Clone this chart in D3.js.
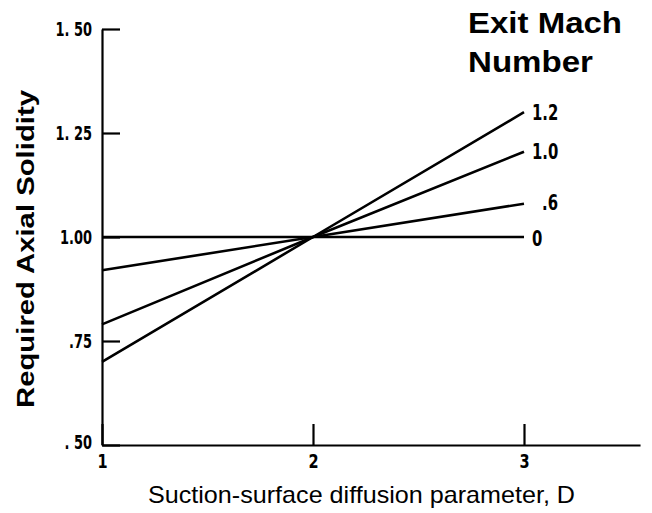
<!DOCTYPE html>
<html><head><meta charset="utf-8">
<script src="https://cdn.jsdelivr.net/npm/d3@7"></script>
<style>
html,body{margin:0;padding:0;background:#fff;}
svg{display:block;}
</style></head>
<body>
<svg id="chart" width="652" height="513"></svg>
<script>
// ---- data ----
const dValues = [1, 2, 3];
const machLabels = ["1.2", "1.0", ".6", "0"];
const solidityMach12 = [0.70, 1.00, 1.30];
const solidityMach10 = [0.79, 1.00, 1.205];
const solidityMach06 = [0.92, 1.00, 1.08];
const solidityMach00 = [1.00, 1.00, 1.00];
const yTickValues = [0.50, 0.75, 1.00, 1.25, 1.50];
const yTickLabels = [". 50", ".75", "1.00", "1. 25", "1. 50"];
const xTickValues = [1, 2, 3];
const xTickLabels = ["1", "2", "3"];
const xAxisMax = 3.55;

const series = [solidityMach12, solidityMach10, solidityMach06, solidityMach00];

const svg = d3.select("#chart");
const x = d3.scaleLinear().domain([1, 3]).range([102, 524]);
const y = d3.scaleLinear().domain([0.5, 1.5]).range([445, 29]);

const tickFont = "'Liberation Sans Narrow','DejaVu Sans Condensed','DejaVu Sans',sans-serif";
const titleFont = "'Liberation Sans',Arial,sans-serif";

// compress text horizontally to mimic the condensed typewriter digits
function condense(sel, factor) {
  sel.each(function () {
    const w = this.getComputedTextLength();
    d3.select(this).attr("textLength", w * factor).attr("lengthAdjust", "spacingAndGlyphs");
  });
}

// y axis
const yAxis = d3.axisLeft(y)
  .tickValues(yTickValues)
  .tickFormat((d, i) => yTickLabels[i])
  .tickSizeInner(-18).tickSizeOuter(0).tickPadding(10);
const gy = svg.append("g").attr("transform", `translate(${x(1)},0)`).call(yAxis);
gy.select(".domain").attr("stroke", "#000").attr("stroke-width", 2.2);
gy.selectAll(".tick line").attr("stroke", "#000").attr("stroke-width", 2.2);
gy.selectAll(".tick text").attr("fill", "#000")
  .style("font-family", tickFont).style("font-weight", "bold").style("font-size", "20px")
  .call(condense, 0.72);
// the bottom label sits slightly above the x axis line
gy.selectAll(".tick text").filter(d => d === 0.5).attr("y", -3);

// x axis
const xFull = d3.scaleLinear().domain([1, xAxisMax]).range([x(1), x(xAxisMax)]);
const xAxis = d3.axisBottom(xFull)
  .tickValues(xTickValues)
  .tickFormat((d, i) => xTickLabels[i])
  .tickSizeInner(-21).tickSizeOuter(0).tickPadding(10);
const gx = svg.append("g").attr("transform", `translate(0,${y(0.5)})`).call(xAxis);
gx.select(".domain").attr("stroke", "#000").attr("stroke-width", 2.2);
gx.selectAll(".tick line").attr("stroke", "#000").attr("stroke-width", 2.2);
gx.selectAll(".tick text").attr("fill", "#000")
  .style("font-family", tickFont).style("font-weight", "bold").style("font-size", "19px")
  .call(condense, 0.85);

// lines
const line = d3.line().x((d, i) => x(dValues[i])).y(d => y(d));
svg.append("g").selectAll("path").data(series).join("path")
  .attr("d", d => line(d))
  .attr("fill", "none").attr("stroke", "#000").attr("stroke-width", 2.6);

// line labels
const labelOffsets = [[8, 0], [8, 0], [18, -1], [8, 1]];
svg.append("g").selectAll("text").data(series).join("text")
  .attr("x", (d, i) => x(dValues[dValues.length - 1]) + labelOffsets[i][0])
  .attr("y", (d, i) => y(d[d.length - 1]) + labelOffsets[i][1])
  .attr("dy", "0.35em")
  .text((d, i) => machLabels[i])
  .style("font-family", tickFont).style("font-weight", "bold").style("font-size", "22px")
  .call(condense, 0.75);

// legend title
svg.append("text").attr("x", 468).attr("y", 33)
  .attr("textLength", 154).attr("lengthAdjust", "spacingAndGlyphs")
  .style("font-family", titleFont).style("font-weight", "bold").style("font-size", "29px")
  .text("Exit Mach");
svg.append("text").attr("x", 468).attr("y", 72)
  .attr("textLength", 125).attr("lengthAdjust", "spacingAndGlyphs")
  .style("font-family", titleFont).style("font-weight", "bold").style("font-size", "29px")
  .text("Number");

// axis titles
svg.append("text")
  .attr("transform", `translate(34,249) rotate(-90)`)
  .attr("text-anchor", "middle")
  .attr("textLength", 318).attr("lengthAdjust", "spacingAndGlyphs")
  .style("font-family", titleFont)
  .style("font-weight", "bold").style("font-size", "23px")
  .text("Required Axial Solidity");

svg.append("text")
  .attr("x", 148).attr("y", 503)
  .attr("textLength", 427).attr("lengthAdjust", "spacingAndGlyphs")
  .style("font-family", titleFont)
  .style("font-size", "24px")
  .text("Suction-surface diffusion parameter, D");
</script>
</body></html>
